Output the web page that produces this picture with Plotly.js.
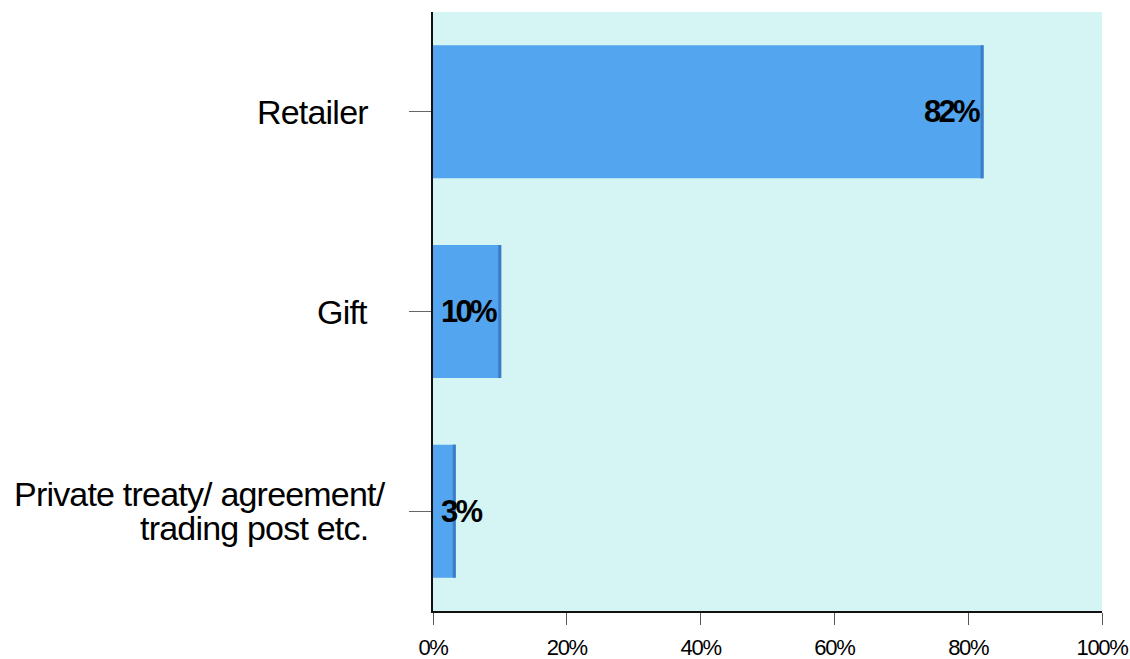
<!DOCTYPE html>
<html>
<head>
<meta charset="utf-8">
<script src="https://cdn.plot.ly/plotly-3.0.1.min.js"></script>
<style>
  html, body { margin: 0; padding: 0; background: #ffffff; }
  #chart { width: 1130px; height: 659px; }
  text.annotation-text[style*="font-size: 34px"] { letter-spacing: -0.8px; }
  text.annotation-text[style*="font-size: 31px"] { letter-spacing: -2.8px; }
  g.xtick text { letter-spacing: -1.3px; }
</style>
</head>
<body>
<div id="chart"></div>
<script>
// ---- data ----
const categories = ["Retailer", "Gift", "Private treaty/ agreement/<br>trading post etc."];
const values = [82.3, 10.2, 3.4];
const valueLabels = ["82%", "10%", "3%"];
const xTickValues = [0, 20, 40, 60, 80, 100];
const xTickLabels = ["0%", "20%", "40%", "60%", "80%", "100%"];

// ---- styles ----
const barColor = "#52a5ee";
const edgeColor = "#3c7ec6";
const bgColor = "#d4f5f4";
const edgeWidth = 0.45;

const traces = [
  {
    type: "bar",
    orientation: "h",
    y: categories,
    x: values,
    marker: { color: barColor, line: { width: 0 } },
    hoverinfo: "none"
  },
  {
    type: "bar",
    orientation: "h",
    y: categories,
    x: values.map(() => edgeWidth),
    base: values.map(v => v - edgeWidth),
    marker: { color: edgeColor, line: { width: 0 } },
    hoverinfo: "none"
  }
];

const annotations = [];
// category labels
categories.forEach((c, i) => {
  const lines = c.split("<br>");
  const n = lines.length;
  lines.forEach((ln, j) => {
    annotations.push({
      xref: "paper", yref: "y",
      x: 0, y: c,
      text: ln,
      showarrow: false,
      xanchor: "right", yanchor: "middle",
      xshift: (n > 1 && j === 0) ? -45 : -63,
      yshift: (n > 1) ? ((n - 1) / 2 - j) * 34 : 0,
      font: { family: "Liberation Sans, Arial, sans-serif", size: 34, color: "#000000" }
    });
  });
});
// value labels
values.forEach((v, i) => {
  const small = v < 5;
  annotations.push({
    xref: "x", yref: "y",
    x: small ? 0 : v,
    y: categories[i],
    text: "<b>" + valueLabels[i] + "</b>",
    showarrow: false,
    xanchor: small ? "left" : "right",
    yanchor: "middle",
    xshift: small ? 6 : -2,
    font: { family: "Liberation Sans, Arial, sans-serif", size: 31, color: "#000000" }
  });
});

const layout = {
  width: 1130,
  height: 659,
  margin: { l: 433, r: 28, t: 12, b: 48 },
  paper_bgcolor: "#ffffff",
  plot_bgcolor: bgColor,
  showlegend: false,
  barmode: "overlay",
  bargap: 0.334,
  xaxis: {
    range: [0, 100],
    tickvals: xTickValues,
    ticktext: xTickLabels,
    showgrid: false,
    zeroline: false,
    showline: true,
    linecolor: "#111111",
    linewidth: 2,
    ticks: "outside",
    ticklen: 12,
    tickwidth: 1,
    tickcolor: "#555555",
    ticklabelstandoff: 4,
    tickfont: { family: "Liberation Sans, Arial, sans-serif", size: 22, color: "#000000" },
    fixedrange: true,
    layer: "below traces"
  },
  yaxis: {
    type: "category",
    autorange: "reversed",
    showgrid: false,
    zeroline: false,
    showline: true,
    linecolor: "#111111",
    linewidth: 2,
    ticks: "outside",
    ticklen: 22,
    tickwidth: 1,
    tickcolor: "#666666",
    showticklabels: false,
    fixedrange: true,
    layer: "below traces"
  },
  annotations: annotations
};

Plotly.newPlot("chart", traces, layout, { displayModeBar: false, staticPlot: true });
</script>
</body>
</html>
